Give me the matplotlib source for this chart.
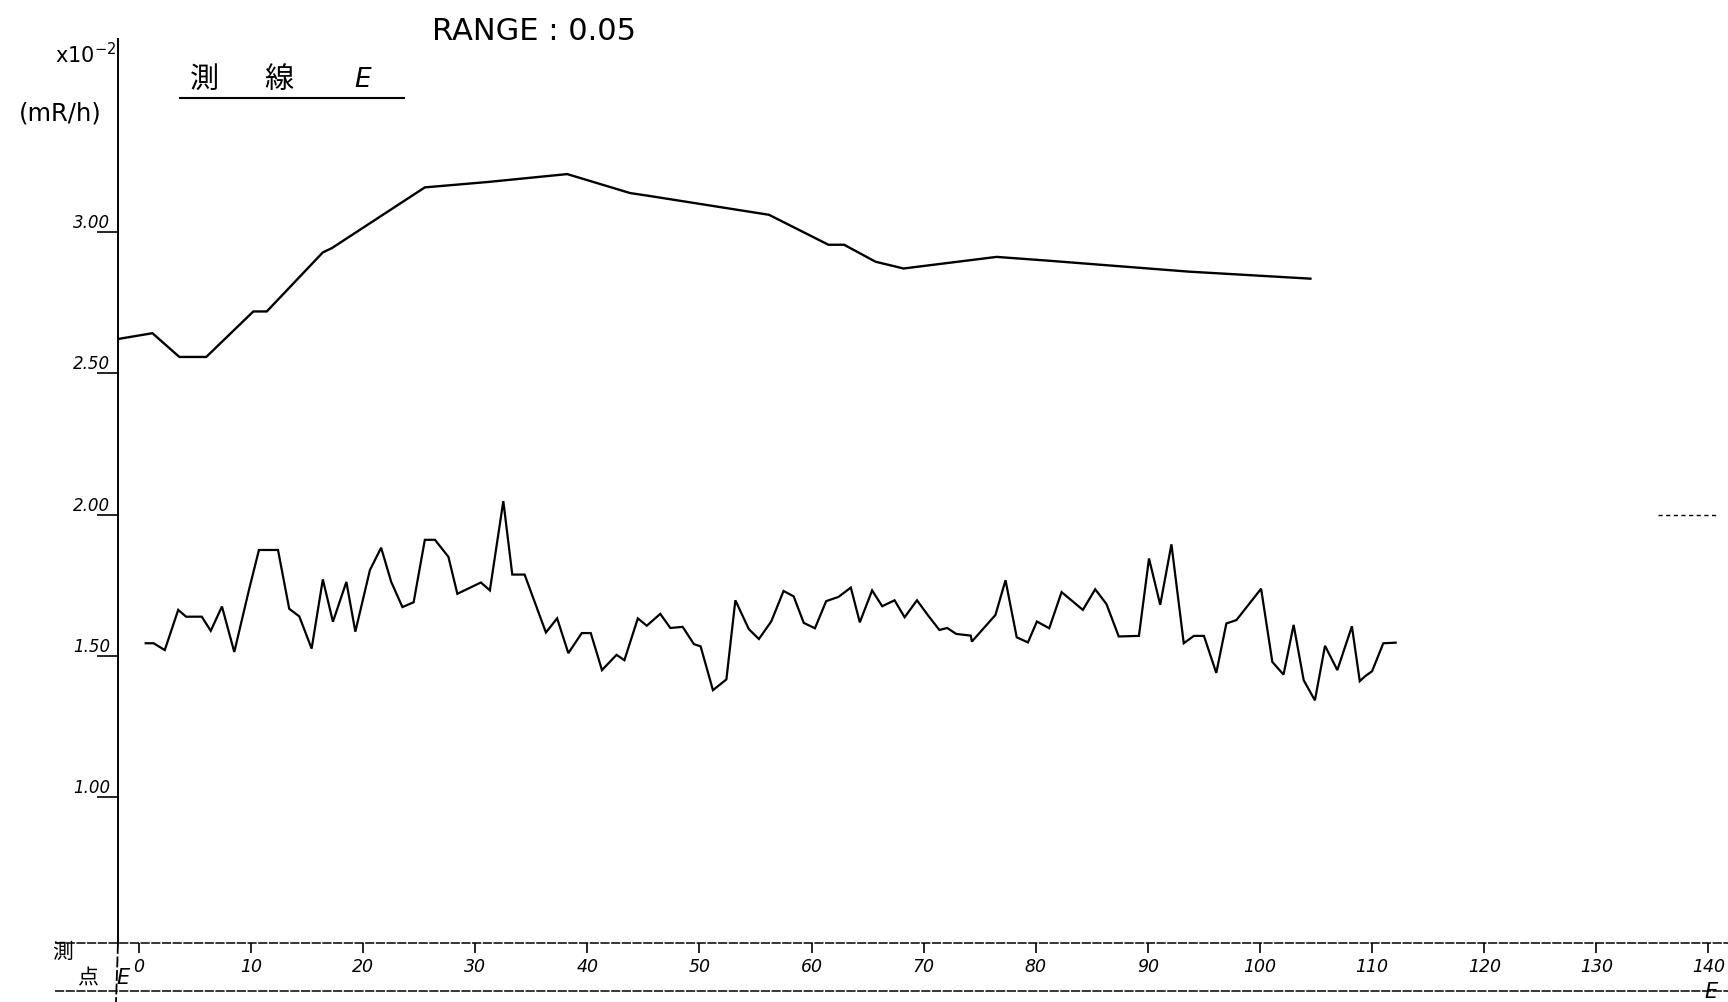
import matplotlib.pyplot as plt
from matplotlib.lines import Line2D

# survey line E, dose rate (x10^-2 mR/h) against station number
upper_x = [-1.8, 1.2, 3.6, 6.0, 10.2, 11.4, 16.4, 17.2, 25.5, 31.1, 38.2, 43.8, 45.8,
           56.2, 61.5, 62.9, 65.7, 68.2, 76.5, 81.0, 93.6, 104.5]
upper_v = [2.622, 2.642, 2.558, 2.558, 2.719, 2.719, 2.928, 2.943, 3.158, 3.177, 3.205,
           3.138, 3.126, 3.061, 2.955, 2.955, 2.895, 2.871, 2.912, 2.899, 2.860, 2.835]

lower_x = [0.6, 1.3, 2.3, 3.5, 4.2, 5.6, 6.4, 7.4, 8.5, 9.8, 10.7, 12.4, 13.4, 14.3,
           15.4, 16.4, 17.3, 18.5, 19.3, 20.6, 21.6, 22.5, 23.5, 24.5, 25.5, 26.4, 27.6,
           28.4, 30.5, 31.3, 32.5, 33.3, 34.4, 36.3, 37.3, 38.3, 39.5, 40.3, 41.3, 42.6,
           43.3, 44.5, 45.3, 46.5, 47.4, 48.5, 49.5, 50.1, 51.2, 52.4, 53.2, 54.4, 55.3,
           56.4, 57.5, 58.4, 59.3, 60.3, 61.3, 62.4, 63.5, 64.3, 65.4, 66.3, 67.4, 68.3,
           69.4, 70.4, 71.4, 72.1, 72.9, 74.2, 74.3, 76.4, 77.3, 78.3, 79.3, 80.1, 81.2,
           82.3, 84.2, 85.3, 86.3, 87.4, 89.2, 90.1, 91.1, 92.1, 93.2, 94.1, 95.0, 96.1,
           97.0, 97.9, 100.1, 101.1, 102.1, 103.0, 103.9, 104.9, 105.8, 106.9, 108.2,
           108.9, 109.4, 110.0, 111.0, 112.1]
lower_v = [1.545, 1.545, 1.521, 1.663, 1.639, 1.639, 1.589, 1.675, 1.514, 1.732, 1.875,
           1.875, 1.667, 1.640, 1.526, 1.771, 1.621, 1.762, 1.586, 1.804, 1.883, 1.762,
           1.673, 1.690, 1.911, 1.911, 1.851, 1.720, 1.760, 1.732, 2.048, 1.788, 1.788,
           1.583, 1.633, 1.510, 1.581, 1.581, 1.450, 1.504, 1.485, 1.633, 1.607, 1.649,
           1.599, 1.603, 1.542, 1.534, 1.379, 1.417, 1.697, 1.595, 1.560, 1.622, 1.730,
           1.711, 1.617, 1.598, 1.694, 1.709, 1.742, 1.619, 1.732, 1.676, 1.697, 1.637,
           1.697, 1.643, 1.592, 1.599, 1.578, 1.572, 1.551, 1.645, 1.768, 1.566, 1.548,
           1.622, 1.598, 1.726, 1.663, 1.736, 1.684, 1.569, 1.571, 1.845, 1.681, 1.895,
           1.545, 1.571, 1.571, 1.440, 1.615, 1.627, 1.738, 1.479, 1.434, 1.610, 1.414,
           1.343, 1.536, 1.450, 1.605, 1.411, 1.429, 1.446, 1.545, 1.547]

y_ticks = [1.0, 1.5, 2.0, 2.5, 3.0]
y_labels = ['1.00', '1.50', '2.00', '2.50', '3.00']
x_ticks = list(range(0, 150, 10))
x_labels = [str(t) for t in x_ticks]

W, H = 1728, 1003
hand = ['Liberation Sans Narrow', 'DejaVu Sans']
jp = ['Noto Sans CJK JP', 'DejaVu Sans']


def fx(px):
    return px / W


def fy(py):
    return 1 - py / H


fig = plt.figure(figsize=(W / 100, H / 100), dpi=100)
ax = fig.add_axes([fx(118), fy(944), 1 - fx(118), fy(40) - fy(944)])
ax.set_xlim(-1.873, 141.75)
ax.set_ylim(0.4844, 3.683)

ax.plot(upper_x, upper_v, color='black', lw=1.7, solid_joinstyle='miter')
ax.plot(lower_x, lower_v, color='black', lw=1.6, solid_joinstyle='miter')

for s in ['top', 'right', 'bottom']:
    ax.spines[s].set_visible(False)
ax.spines['left'].set_linewidth(1.4)

ax.set_yticks(y_ticks)
ax.tick_params(axis='y', direction='out', length=15, width=1.2, labelleft=False)
for v, lab in zip(y_ticks, y_labels):
    ax.text(-0.005, v + 0.004, lab, transform=ax.get_yaxis_transform(),
            ha='right', va='bottom', fontsize=12, style='italic', family=hand)

ax.set_xticks(x_ticks)
ax.set_xticklabels(x_labels, fontsize=12.5, style='italic', family=hand)
ax.tick_params(axis='x', direction='out', length=7, width=1.2, pad=3)

# station band: two ruled lines and the axis carried down through them
fig.add_artist(Line2D([fx(55), 1], [fy(944), fy(944)], color='black', lw=1.1,
                      linestyle=(0, (6, 1))))
fig.add_artist(Line2D([fx(55), 1], [fy(992), fy(992)], color='black', lw=1.1,
                      linestyle=(0, (6, 1))))
fig.add_artist(Line2D([fx(118), fx(116)], [fy(944), 0], color='black', lw=1.3,
                      linestyle=(0, (6, 1.5))))
ax.plot([135.5, 140.7], [2.0, 2.0], color='black', lw=1, linestyle=(0, (3, 2.5)), clip_on=False)

fig.text(fx(534), fy(31), 'RANGE : 0.05', ha='center', va='center', fontsize=22, family=hand)
fig.text(fx(116), fy(55), r'x10$^{-2}$', ha='right', va='center', fontsize=15, family=hand)
fig.text(fx(60), fy(114), '(mR/h)', ha='center', va='center', fontsize=17.5, family=hand)

fig.text(fx(204), fy(80), '測', ha='center', va='center', fontsize=21, family=jp)
fig.text(fx(279), fy(80), '線', ha='center', va='center', fontsize=21, family=jp)
fig.text(fx(363), fy(80), 'E', ha='center', va='center', fontsize=19, style='italic', family=hand)
fig.add_artist(Line2D([fx(180), fx(404)], [fy(99), fy(99)], color='black', lw=1.5))

fig.text(fx(63), fy(952), '測', ha='center', va='center', fontsize=15, family=jp)
fig.text(fx(88), fy(978), '点', ha='center', va='center', fontsize=15, family=jp)
fig.text(fx(123), fy(978), 'E', ha='center', va='center', fontsize=15, style='italic', family=hand)
fig.text(fx(1711), fy(992), 'E', ha='center', va='center', fontsize=15, style='italic', family=hand)

fig.savefig('out.png', dpi=100)
